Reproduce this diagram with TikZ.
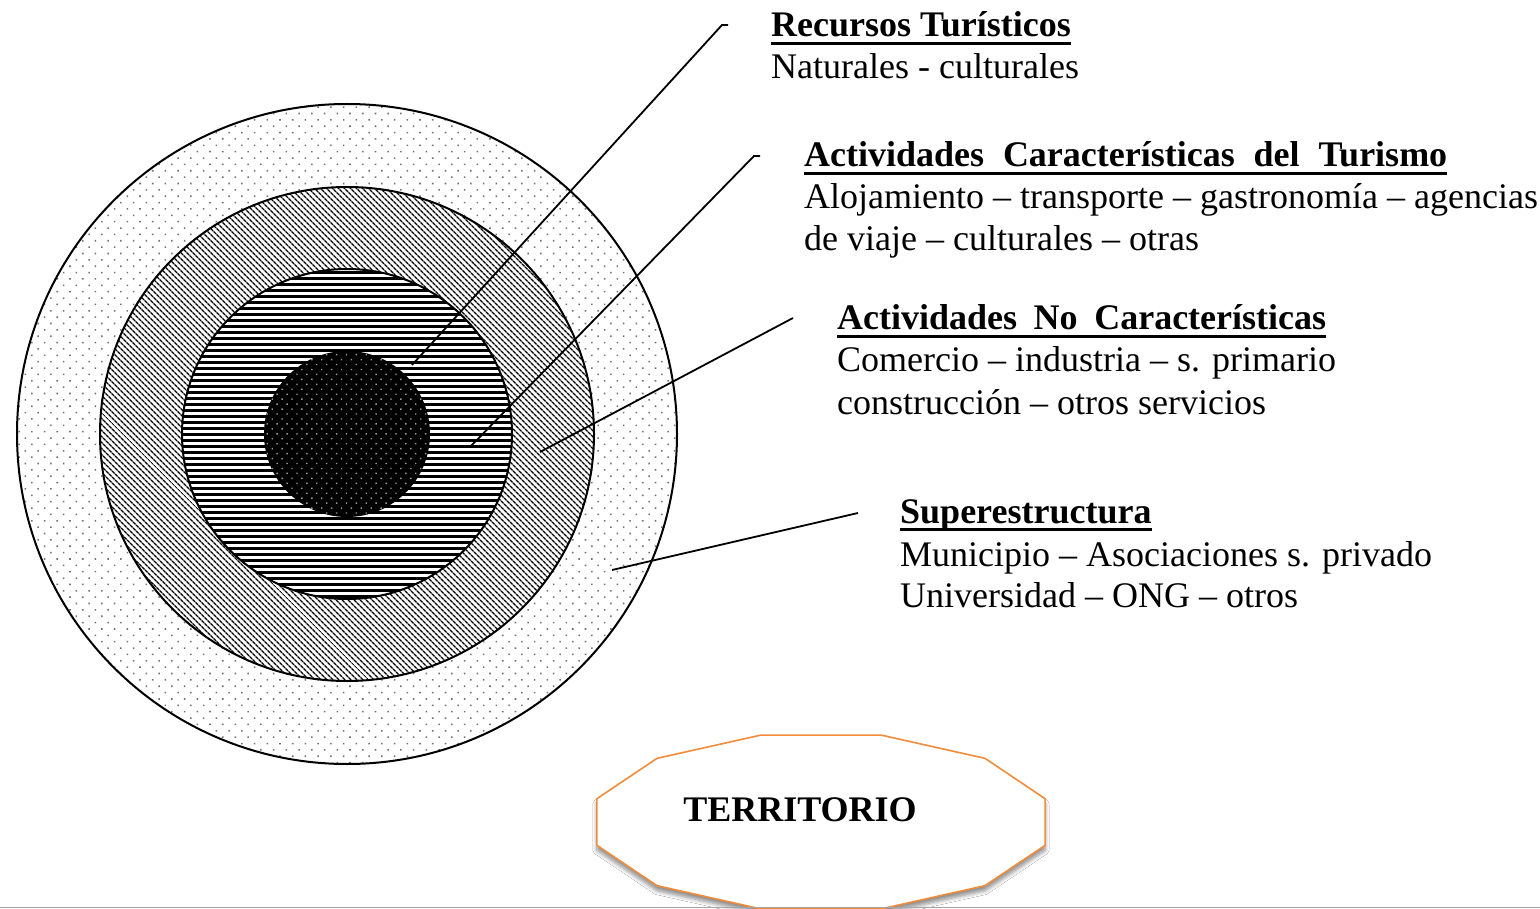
\documentclass[tikz,border=0pt]{standalone}
\usepackage{fontspec}
\setmainfont{Liberation Serif}
\usetikzlibrary{patterns.meta,shadows.blur}
\definecolor{naranja}{RGB}{240,140,60}
\newcommand{\subrayado}[1]{\setbox0\hbox{#1}\rlap{\rule[-8pt]{\wd0}{2.6pt}}\box0}

\begin{document}
\begin{tikzpicture}[x=1pt,y=-1pt,
	borde/.style={line width=2pt,preaction={fill=white}},
	guia/.style={line width=1.8pt},
	titulo/.style={anchor=base west,inner sep=0pt,font=\fontsize{36}{42}\selectfont\bfseries},
	texto/.style={anchor=base west,inner sep=0pt,font=\fontsize{36}{42}\selectfont}]
	\clip (0,0) rectangle (1540,909);
	\fill[white] (0,0) rectangle (1540,909);

	% anillos
	\coordinate (c) at (347,434);
	\draw[borde,pattern={Dots[distance=9pt,angle=45,radius=1.1pt]},pattern color=black!55] (c) circle[radius=330];
	\draw[borde,pattern={Lines[distance=4pt,angle=-45,line width=1.6pt]},pattern color=black] (c) circle[radius=247];
	\draw[borde,pattern={Lines[distance=6pt,angle=0,line width=3pt]}] (c) circle[radius=165];
	\fill[black] (c) circle[radius=83];
	\fill[pattern={Dots[distance=7pt,angle=45,radius=1pt]},pattern color=gray!80] (c) circle[radius=83];

	% textos
	\node[titulo] (rec) at (771,37) {\subrayado{Recursos Turísticos}};
	\node[texto] (rec-1) at (771,79) {Naturales - culturales};

	\node[titulo] (act) at (804,167) {\subrayado{\makebox[643pt][s]{Actividades Características del Turismo}}};
	\foreach \y/\t [count=\i] in {209/Alojamiento – transporte – gastronomía – agencias,251/de viaje – culturales – otras}{
		\node[texto] (act-\i) at (804,\y) {\t};
	}

	\node[titulo] (noc) at (837,330) {\subrayado{\makebox[489pt][s]{Actividades No Características}}};
	\foreach \y/\t [count=\i] in {372/Comercio – industria – s. primario,414/construcción – otros servicios}{
		\node[texto] (noc-\i) at (837,\y) {\t};
	}

	\node[titulo] (sup) at (900,523) {\subrayado{Superestructura}};
	\foreach \y/\t [count=\i] in {566/Municipio – Asociaciones s. privado,607/Universidad – ONG – otros}{
		\node[texto] (sup-\i) at (900,\y) {\t};
	}

	% lineas guia
	\coordinate (p1) at (412,365);
	\coordinate (q1) at (722,25);
	\coordinate (p2) at (470,447);
	\coordinate (q2) at (754,156);
	\coordinate (p3) at (540,452);
	\coordinate (q3) at (793,318);
	\coordinate (p4) at (612,570);
	\coordinate (q4) at (858,513);
	\draw[guia] (p1) -- (q1) -- ++(6,0);
	\draw[guia] (p2) -- (q2) -- ++(6,0);
	\draw[guia] (p3) -- (q3);
	\draw[guia] (p4) -- (q4);

	% territorio
	\draw[naranja,line width=1.6pt,fill=white,blur shadow={shadow xshift=0pt,shadow yshift=-5pt,shadow blur steps=6,shadow blur radius=4pt,shadow opacity=45}]
		plot[samples at={15,45,...,345},shift={(821,822)}] ({232*cos(\x)},{90*sin(\x)}) -- cycle;
	\node[font=\fontsize{36}{42}\selectfont\bfseries,inner sep=0pt] (terr) at (800,810) {TERRITORIO};

	\draw[gray!70,line width=1.5pt] (0,907.5) -- (1540,907.5);
\end{tikzpicture}
\end{document}
